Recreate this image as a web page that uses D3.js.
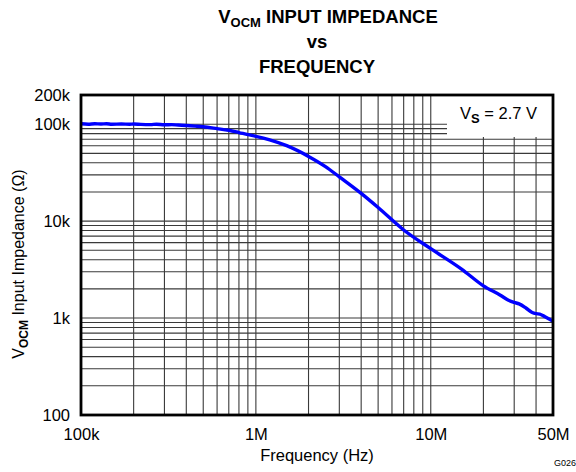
<!DOCTYPE html>
<html>
<head>
<meta charset="utf-8">
<script src="https://cdn.jsdelivr.net/npm/d3@7"></script>
<style>
  body { margin: 0; background: #fff; }
  svg { display: block; font-family: "Liberation Sans", Arial, sans-serif; }
</style>
</head>
<body>
<svg id="chart" width="576" height="472"></svg>
<script>
// ---- data ----
const freqHz = [100e3, 110e3, 120e3, 130e3, 140e3, 150e3, 170e3, 190e3, 200e3, 220e3, 250e3, 270e3,
  300e3, 330e3, 360e3, 400e3, 450e3, 500e3, 600e3, 700e3, 800e3, 900e3, 1e6, 1.2e6, 1.5e6, 2e6,
  2.5e6, 3e6, 4e6, 5e6, 7e6, 10e6, 15e6, 20e6, 25e6, 28e6, 30e6, 32e6, 35e6, 38e6, 40e6, 42e6, 45e6, 50e6];
const impedanceOhm = [101e3, 100e3, 101e3, 100.5e3, 101e3, 100e3, 100.5e3, 100e3, 100.5e3, 99.5e3, 99e3, 100e3,
  98.5e3, 99e3, 98e3, 97e3, 95.5e3, 94e3, 90e3, 86.5e3, 82e3, 78e3, 75e3, 69e3, 60e3, 46.5e3,
  36.5e3, 28.6e3, 19.3e3, 13.8e3, 8.1e3, 5.2e3, 3.2e3, 2.15e3, 1.72e3, 1.52e3, 1.45e3, 1.4e3, 1.27e3, 1.14e3, 1.11e3, 1.1e3, 1.03e3, 930];
const xTickValues = [1e5, 1e6, 1e7, 5e7];
const xTickLabels = ["100k", "1M", "10M", "50M"];
const yTickValues = [100, 1e3, 1e4, 1e5, 2e5];
const yTickLabels = ["100", "1k", "10k", "100k", "200k"];
const xGridValues = [];
[1e5, 1e6, 1e7].forEach(d => { for (let m = 1; m <= 9; m++) { const v = d * m; if (v > 1e5 && v < 5e7) xGridValues.push(v); } });
const yGridValues = [];
[100, 1e3, 1e4].forEach(d => { for (let m = 1; m <= 9; m++) { const v = d * m; if (v > 100) yGridValues.push(v); } });
yGridValues.push(1e5);

// ---- layout ----
const svg = d3.select("#chart");
const L = 81, R = 553, T = 95, B = 415;
const x = d3.scaleLog().domain([1e5, 5e7]).range([L, R]);
const y = d3.scaleLog().domain([100, 2e5]).range([B, T]);
const FONT = "Liberation Sans, Arial, sans-serif";

// grid
svg.append("g").selectAll("line").data(xGridValues).join("line")
  .attr("x1", d => x(d)).attr("x2", d => x(d)).attr("y1", T).attr("y2", B)
  .attr("stroke", "#3a3a3a").attr("stroke-width", 1.1);
svg.append("g").selectAll("line").data(yGridValues).join("line")
  .attr("x1", L).attr("x2", R).attr("y1", d => y(d)).attr("y2", d => y(d))
  .attr("stroke", "#3a3a3a").attr("stroke-width", 1.1);

// legend box (white area covering grid)
svg.append("rect").attr("x", 447).attr("y", T).attr("width", R - 447).attr("height", 42).attr("fill", "#fff");
const leg = svg.append("text").attr("x", 460).attr("y", 119).attr("font-size", 16.5).attr("fill", "#000");
leg.append("tspan").text("V");
leg.append("tspan").attr("dy", 4).attr("font-size", 13).attr("font-weight", "bold").text("S");
leg.append("tspan").attr("dy", -4).text(" = 2.7 V");

// curve
const line = d3.line().x((d, i) => x(freqHz[i])).y(d => y(d)).curve(d3.curveMonotoneX);
svg.append("path").datum(impedanceOhm).attr("d", line)
  .attr("fill", "none").attr("stroke", "#0000ff").attr("stroke-width", 3.4).attr("stroke-linejoin", "round");

// border
svg.append("rect").attr("x", L).attr("y", T).attr("width", R - L).attr("height", B - T)
  .attr("fill", "none").attr("stroke", "#000").attr("stroke-width", 2.8);

// axes (labels via d3 axes, no tick lines)
const xAxis = d3.axisBottom(x).tickValues(xTickValues).tickFormat((d, i) => xTickLabels[i]).tickSize(0).tickPadding(13);
const gx = svg.append("g").attr("transform", `translate(0,${B})`).call(xAxis);
gx.select(".domain").remove();
gx.selectAll("text").attr("font-size", 16.5).attr("font-family", FONT).attr("fill", "#000");

const yAxis = d3.axisLeft(y).tickValues(yTickValues).tickFormat((d, i) => yTickLabels[i]).tickSize(0).tickPadding(11);
const gy = svg.append("g").attr("transform", `translate(${L},0)`).call(yAxis);
gy.select(".domain").remove();
gy.selectAll("text").attr("font-size", 16.5).attr("font-family", FONT).attr("fill", "#000");

// axis titles
svg.append("text").attr("x", (L + R) / 2).attr("y", 461).attr("text-anchor", "middle")
  .attr("font-size", 16.5).text("Frequency (Hz)");
const yt = svg.append("text").attr("transform", "translate(24,264) rotate(-90)").attr("text-anchor", "middle").attr("font-size", 16);
yt.append("tspan").text("V");
yt.append("tspan").attr("dy", 4).attr("font-size", 12).attr("font-weight", "bold").text("OCM");
yt.append("tspan").attr("dy", -4).text(" Input Impedance (Ω)");

svg.append("text").attr("x", 576).attr("y", 466).attr("text-anchor", "end").attr("font-size", 9).text("G026");

// title
const t1 = svg.append("text").attr("x", 328).attr("y", 23).attr("text-anchor", "middle")
  .attr("font-size", 18.5).attr("font-weight", "bold");
t1.append("tspan").text("V");
t1.append("tspan").attr("dy", 4).attr("font-size", 13).text("OCM");
t1.append("tspan").attr("dy", -4).text(" INPUT IMPEDANCE");
svg.append("text").attr("x", 317).attr("y", 48).attr("text-anchor", "middle")
  .attr("font-size", 18.5).attr("font-weight", "bold").text("vs");
svg.append("text").attr("x", 317).attr("y", 73).attr("text-anchor", "middle")
  .attr("font-size", 18.5).attr("font-weight", "bold").text("FREQUENCY");
</script>
</body>
</html>
